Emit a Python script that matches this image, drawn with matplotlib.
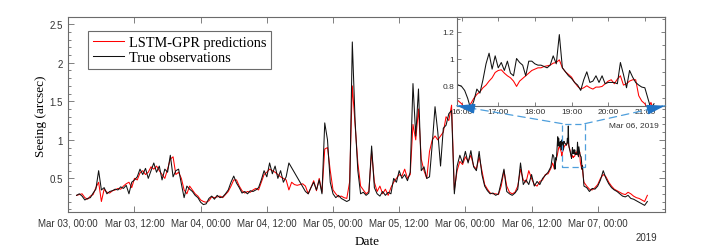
"""Seeing: LSTM-GPR predictions vs observations, with zoomed inset (Mar 06)."""

import numpy as np
import matplotlib
matplotlib.use("Agg")
import matplotlib.pyplot as plt
import matplotlib.dates as mdates
from matplotlib.patches import Rectangle
from matplotlib.ticker import MultipleLocator, FormatStrFormatter, FixedLocator

nan = np.nan

# 30-min samples starting Mar 03 01:30 (NaN = no sample; window Mar 06 16-21h comes from the zoom arrays)
t0 = np.datetime64("2019-03-03T01:30")
obs = [
    0.28, 0.30, 0.27, 0.22, 0.24, 0.25, 0.31, 0.36, 0.60, 0.35, 0.38, 0.30,
    0.33, 0.34, 0.36, 0.35, 0.39, 0.37, 0.41, 0.30, 0.45, 0.48, 0.52, 0.62,
    0.55, 0.63, 0.50, 0.60, 0.70, 0.58, 0.66, 0.48, 0.62, 0.58, 0.80, 0.52,
    0.60, 0.62, 0.43, 0.25, 0.40, 0.36, 0.33, 0.28, 0.25, 0.19, 0.16, 0.17,
    0.24, 0.27, 0.23, 0.28, 0.25, 0.26, 0.30, 0.35, 0.45, 0.53, 0.44, 0.38,
    0.31, 0.33, 0.30, 0.34, 0.33, 0.35, 0.38, 0.48, 0.60, 0.52, 0.70, 0.56,
    0.66, 0.50, 0.60, 0.45, 0.52, 0.70, nan, nan, nan, nan, nan, 0.33,
    0.30, 0.38, 0.45, 0.35, 0.48, 0.30, 1.22, 1.00, 0.45, 0.30, 0.25, 0.28,
    0.24, 0.22, 0.20, 0.22, 2.27, 1.25, 0.60, 0.30, 0.32, 0.28, 0.31, 0.92,
    0.38, 0.30, 0.27, 0.33, 0.28, 0.32, 0.30, 0.50, 0.45, 0.60, 0.50, 0.55,
    0.47, 0.58, 1.73, 1.05, 1.66, 0.60, 0.65, 0.50, 0.52, 0.95, 1.43, 1.10,
    0.66, 1.15, 1.19, 1.34, 1.38, 0.30, 0.66, 0.80, 0.70, 0.85, 0.70, 0.86,
    0.65, 0.60, 0.85, 0.55, 0.40, 0.34, 0.30, 0.31, 0.28, 0.30, 0.45, 0.62,
    0.33, 0.30, 0.28, 0.31, 0.36, 0.70, 0.42, 0.48, 0.42, 0.55, 0.40, 0.46,
    0.42, 0.50, 0.54, 0.58, 0.65, nan, nan, nan, nan, nan, nan, nan,
    nan, nan, nan, nan, 0.40, 0.38, 0.33, 0.37, 0.36, 0.40, 0.48, 0.60,
    0.50, 0.43, 0.38, 0.35, 0.33, 0.30, 0.27, 0.26, 0.28, 0.24, 0.23, 0.21,
    0.19, 0.17, 0.15, 0.20,
]
pred = [
    0.28, 0.29, 0.30, 0.25, 0.23, 0.27, 0.29, 0.38, 0.45, 0.20, 0.36, 0.32,
    0.31, 0.34, 0.35, 0.37, 0.36, 0.40, 0.43, 0.45, 0.38, 0.50, 0.48, 0.57,
    0.60, 0.55, 0.58, 0.65, 0.62, 0.66, 0.60, 0.55, 0.50, 0.62, 0.75, 0.78,
    0.55, 0.58, 0.50, 0.35, 0.30, 0.40, 0.35, 0.30, 0.27, 0.22, 0.20, 0.19,
    0.21, 0.26, 0.25, 0.26, 0.27, 0.25, 0.29, 0.33, 0.40, 0.48, 0.48, 0.40,
    0.34, 0.31, 0.33, 0.32, 0.35, 0.37, 0.35, 0.45, 0.55, 0.58, 0.62, 0.60,
    0.58, 0.55, 0.52, 0.50, 0.48, 0.35, 0.45, 0.42, 0.41, 0.42, 0.43, 0.40,
    0.30, 0.38, 0.47, 0.34, 0.50, 0.32, 0.88, 0.90, 0.60, 0.35, 0.30, 0.26,
    0.27, 0.25, 0.24, 0.45, 1.70, 1.20, 0.70, 0.40, 0.35, 0.30, 0.33, 0.85,
    0.45, 0.33, 0.40, 0.30, 0.36, 0.28, 0.38, 0.45, 0.50, 0.55, 0.53, 0.62,
    0.50, 0.55, 1.20, 1.00, 1.40, 0.75, 0.60, 0.50, 0.85, 1.00, 1.05, 1.00,
    1.05, 1.10, 1.30, 1.25, 1.45, 0.35, 0.60, 0.72, 0.68, 0.78, 0.72, 0.80,
    0.66, 0.62, 0.78, 0.60, 0.42, 0.36, 0.31, 0.30, 0.30, 0.29, 0.40, 0.60,
    0.40, 0.32, 0.30, 0.32, 0.40, 0.62, 0.48, 0.45, 0.60, 0.50, 0.42, 0.40,
    0.46, 0.48, 0.55, 0.56, 0.63, nan, nan, nan, nan, nan, nan, nan,
    nan, nan, nan, nan, 0.45, 0.40, 0.36, 0.35, 0.38, 0.42, 0.50, 0.55,
    0.52, 0.45, 0.40, 0.36, 0.34, 0.32, 0.30, 0.29, 0.32, 0.30, 0.27, 0.25,
    0.24, 0.22, 0.20, 0.28,
]

# 5-min samples, Mar 06 from 15:50
zoom_t0 = np.datetime64("2019-03-06T15:50")
zoom_obs = [
    0.81, 0.80, 0.79, 0.76, 0.70, 0.62, 0.68, 0.77, 0.74, 0.84,
    0.96, 1.04, 0.92, 1.02, 0.93, 0.97, 0.91, 0.98, 0.89, 0.87,
    1.00, 0.97, 0.95, 0.87, 0.98, 0.98, 0.96, 0.95, 0.95, 0.94,
    0.93, 0.95, 1.02, 0.96, 1.18, 0.93, 0.90, 0.87, 0.85, 0.82,
    0.80, 0.76, 0.84, 0.90, 0.82, 0.83, 0.87, 0.82, 0.87, 0.81,
    0.82, 0.82, 0.82, 0.81, 0.97, 0.88, 0.78, 0.91, 0.86, 0.82,
    0.80, 0.785, 0.78, 0.70, 0.62, 0.66,
]
zoom_pred = [
    0.70, 0.68, 0.66, 0.63, 0.62, 0.66, 0.70, 0.73, 0.75, 0.78,
    0.80, 0.83, 0.855, 0.895, 0.91, 0.915, 0.89, 0.87, 0.855, 0.83,
    0.79, 0.83, 0.85, 0.87, 0.89, 0.91, 0.92, 0.93, 0.93, 0.94,
    0.945, 0.95, 0.965, 0.97, 0.99, 0.93, 0.90, 0.88, 0.86, 0.82,
    0.79, 0.77, 0.78, 0.795, 0.78, 0.77, 0.785, 0.785, 0.79, 0.81,
    0.83, 0.84, 0.81, 0.845, 0.87, 0.80, 0.81, 0.83, 0.84, 0.84,
    0.72, 0.68, 0.66, 0.62, 0.67, 0.60,
]

# main x ticks (every 12 h up to Mar 07 00:00)
main_ticks = np.arange(np.datetime64("2019-03-03T00:00"),
                       np.datetime64("2019-03-07T00:01"), np.timedelta64(12, "h"))

RED = "#ff0000"
BLACK = "#111111"
BLUE = "#4f9fdc"
BLUE_DARK = "#1f72c4"
GRAY = "#6b6b6b"

plt.rcParams["font.family"] = ["Liberation Sans", "DejaVu Sans"]
SERIF = ["Liberation Serif", "DejaVu Serif"]

coarse_t = t0 + np.arange(len(obs)) * np.timedelta64(30, "m")
zoom_t = zoom_t0 + np.arange(len(zoom_obs)) * np.timedelta64(5, "m")


def merged(vals, zvals):
    t = np.concatenate([coarse_t, zoom_t])
    v = np.concatenate([np.asarray(vals, float), np.asarray(zvals, float)])
    keep = ~np.isnan(v)
    t, v = t[keep], v[keep]
    order = np.argsort(t)
    return t[order], v[order]


def style_axes(a, major_len=4, minor_len=2):
    for s in a.spines.values():
        s.set_color(GRAY)
        s.set_linewidth(0.8)
    a.tick_params(which="both", direction="in", top=True, right=True,
                  color=GRAY, width=0.6, labelcolor="#333333")
    a.tick_params(which="major", length=major_len)
    a.tick_params(which="minor", length=minor_len)


fig = plt.figure(figsize=(7.06, 2.53), dpi=100)
W, H = 706, 253
ax = fig.add_axes([68.3 / W, 1 - 213.3 / H, (665 - 68.3) / W, (213.3 - 18.3) / H])

t_obs, v_obs = merged(obs, zoom_obs)
t_pred, v_pred = merged(pred, zoom_pred)
ax.plot(t_pred, v_pred, color=RED, lw=0.75, label="LSTM-GPR predictions")
ax.plot(t_obs, v_obs, color=BLACK, lw=0.75, label="True observations")

ax.set_xlim(np.datetime64("2019-03-03T00:00"), np.datetime64("2019-03-07T12:12"))
ax.set_ylim(0.06, 2.59)
ax.xaxis.set_major_locator(FixedLocator(mdates.date2num(main_ticks)))
ax.xaxis.set_major_formatter(mdates.DateFormatter("%b %d, %H:%M"))
ax.yaxis.set_major_locator(MultipleLocator(0.5))
ax.yaxis.set_minor_locator(MultipleLocator(0.1))
ax.yaxis.set_major_formatter(FormatStrFormatter("%g"))
style_axes(ax)
ax.tick_params(axis="x", labelsize=7, pad=4)
ax.tick_params(axis="y", labelsize=7, pad=4)
ax.set_xlabel("Date", family=SERIF, fontsize=9.5, labelpad=5)
ax.set_ylabel("Seeing (arcsec)", family=SERIF, fontsize=9.5, labelpad=2)

leg = ax.legend(loc="upper left", bbox_to_anchor=(0.033, 0.93), borderaxespad=0,
                prop={"family": SERIF, "size": 10.3}, fancybox=False,
                framealpha=1, edgecolor=GRAY, handlelength=2.2,
                handletextpad=0.3, borderpad=0.35, labelspacing=0.15)
leg.get_frame().set_linewidth(0.8)

fig.text(656.7 / W, 1 - 237.7 / H, "2019", ha="right", va="center",
         fontsize=7, color="#333333")

# zoom box on main axes
rx0 = mdates.date2num(np.datetime64("2019-03-06T17:33"))
rx1 = mdates.date2num(np.datetime64("2019-03-06T21:40"))
ry0, ry1 = 0.65, 1.21
ax.add_patch(Rectangle((rx0, ry0), rx1 - rx0, ry1 - ry0, fill=False,
                       ls=(0, (5, 3)), ec=BLUE, lw=0.9, zorder=5))

# inset
axin = fig.add_axes([456.7 / W, 1 - 106.7 / H, (665 - 456.7) / W, (106.7 - 18.3) / H])
axin.plot(zoom_t, zoom_pred, color=RED, lw=0.75)
axin.plot(zoom_t, zoom_obs, color=BLACK, lw=0.75)
axin.set_xlim(np.datetime64("2019-03-06T15:52"), np.datetime64("2019-03-06T21:33"))
axin.set_ylim(0.645, 1.31)
axin.xaxis.set_major_locator(mdates.HourLocator())
axin.xaxis.set_major_formatter(mdates.DateFormatter("%H:%M"))
axin.yaxis.set_major_locator(MultipleLocator(0.2))
axin.yaxis.set_minor_locator(MultipleLocator(0.1))
axin.yaxis.set_major_formatter(FormatStrFormatter("%g"))
style_axes(axin, major_len=3, minor_len=2)
axin.tick_params(labelsize=6, pad=2)
fig.text(658.3 / W, 1 - 126 / H, "Mar 06, 2019", ha="right", va="center",
         fontsize=6, color="#333333")

# connectors: inset bottom corners <- box top corners
fig.canvas.draw()
for corner, rx in [((0, 0), rx0), ((1, 0), rx1)]:
    p_in = np.array(axin.transAxes.transform(corner))
    p_box = np.array(ax.transData.transform((rx, ry1)))
    axin.annotate("", xy=p_in, xycoords="figure pixels", xytext=p_box,
                  textcoords="figure pixels", annotation_clip=False,
                  arrowprops=dict(arrowstyle="-", ls=(0, (6, 4)), color=BLUE,
                                  lw=0.9, shrinkA=0, shrinkB=0))
    u = (p_box - p_in) / np.hypot(*(p_box - p_in))
    axin.annotate("", xy=p_in, xycoords="figure pixels", xytext=p_in + 15 * u,
                  textcoords="figure pixels", annotation_clip=False,
                  arrowprops=dict(arrowstyle="-|>,head_length=1.1,head_width=0.3",
                                  color=BLUE_DARK, lw=0.9, shrinkA=0, shrinkB=0,
                                  mutation_scale=10))

fig.savefig("out.png", dpi=100)
plt.close(fig)
